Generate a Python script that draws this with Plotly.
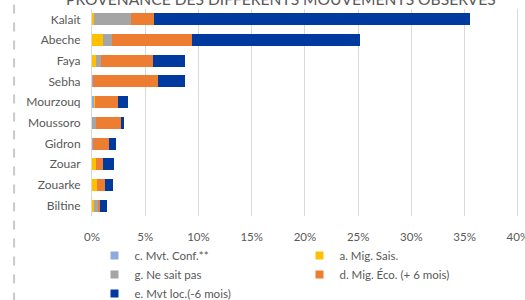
import plotly.graph_objects as go

categories = ["Kalait", "Abeche", "Faya", "Sebha", "Mourzouq", "Moussoro", "Gidron", "Zouar", "Zouarke", "Biltine"]
mvt_conf = [0.0, 0.0, 0.0, 0.1, 0.15, 0.0, 0.05, 0.0, 0.0, 0.0]
mig_sais = [0.15, 1.0, 0.38, 0.0, 0.1, 0.0, 0.0, 0.4, 0.47, 0.2]
ne_sait_pas = [3.54, 0.91, 0.47, 0.0, 0.0, 0.4, 0.0, 0.0, 0.0, 0.35]
mig_eco = [2.1, 7.5, 4.9, 6.1, 2.2, 2.3, 1.5, 0.63, 0.75, 0.19]
mvt_loc = [29.7, 15.8, 3.0, 2.5, 0.97, 0.28, 0.72, 1.03, 0.75, 0.69]
tick_vals = [0, 5, 10, 15, 20, 25, 30, 35, 40]
tick_text = ["0%", "5%", "10%", "15%", "20%", "25%", "30%", "35%", "40%"]

series = [
    ("c. Mvt. Conf.**", mvt_conf, "#8FAADC"),
    ("a. Mig. Sais.", mig_sais, "#FFC000"),
    ("g. Ne sait pas", ne_sait_pas, "#A5A5A5"),
    ("d. Mig. Éco. (+ 6 mois)", mig_eco, "#ED7D31"),
    ("e. Mvt loc.(-6 mois)", mvt_loc, "#003A9E"),
]

fig = go.Figure()
for name, vals, color in series:
    fig.add_trace(go.Bar(
        y=categories, x=vals, name=name, orientation="h",
        marker=dict(color=color, line=dict(width=0)),
        hoverinfo="skip", showlegend=False,
    ))
# legend entries with small square keys
for name, vals, color in series:
    fig.add_trace(go.Scatter(
        x=[None], y=[None], mode="markers", name=name,
        marker=dict(symbol="square", size=8, color=color, line=dict(width=0)),
        hoverinfo="skip", showlegend=True,
    ))

fig.update_layout(
    width=525, height=300,
    barmode="stack", bargap=0.42,
    hovermode=False,
    paper_bgcolor="white", plot_bgcolor="white",
    margin=dict(l=92, r=5, t=9, b=84, autoexpand=False),
    font=dict(family="Lato, Noto Sans, sans-serif", size=12, color="#595959"),
    title=dict(text="PROVENANCE DES DIFFÉRENTS MOUVEMENTS OBSERVÉS",
               x=0.535, xanchor="center", xref="container",
               y=1.0, yanchor="middle", yref="container",
               font=dict(size=15.6, color="#595959")),
    xaxis=dict(range=[0, 40.2], tickvals=tick_vals, ticktext=tick_text,
               showgrid=True, gridcolor="#D9D9D9", gridwidth=1,
               zeroline=False, showline=False, ticks="",
               ticklabelstandoff=12, tickfont=dict(size=11.5),
               ticklabeloverflow="allow",
               fixedrange=True),
    yaxis=dict(autorange="reversed", showgrid=False, zeroline=False,
               showline=True, linecolor="#D9D9D9", linewidth=1,
               ticks="", ticklabelstandoff=8, tickfont=dict(size=12),
               fixedrange=True),
    legend=dict(orientation="h", xref="container", x=0.18, xanchor="left",
                yref="container", y=0.197, yanchor="top", entrywidth=160,
                font=dict(size=11.5, color="#595959"),
                itemwidth=30, traceorder="normal"),
    showlegend=True,
    shapes=[dict(type="line", xref="paper", yref="paper",
                 x0=-0.182, x1=-0.182, y0=-0.5, y1=1.1,
                 line=dict(color="#C8C8C8", width=2, dash="dash"))],
)

fig.write_html("out.html", config={"displayModeBar": False, "staticPlot": True},
               post_script="document.body.style.margin='0';")
